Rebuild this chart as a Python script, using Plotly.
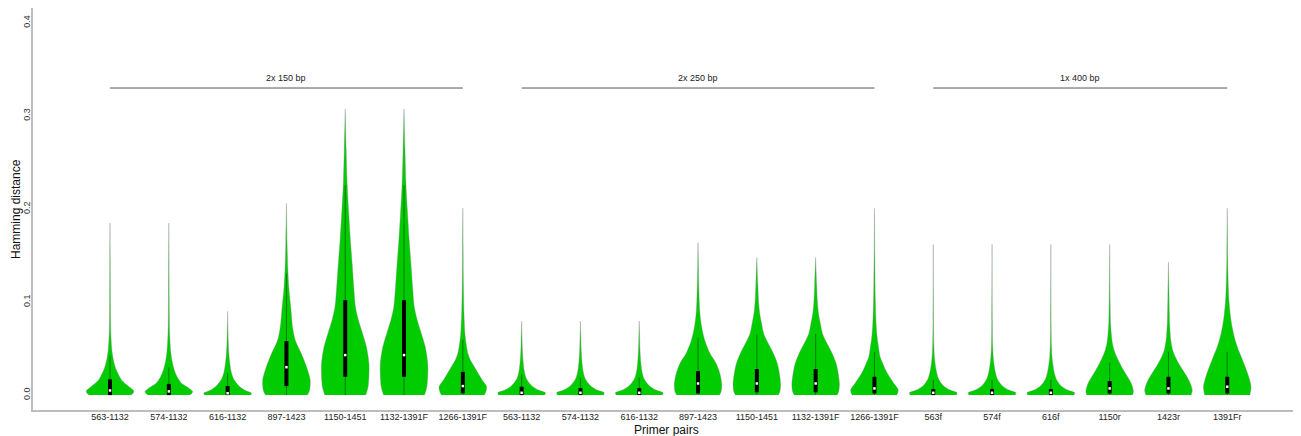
import plotly.graph_objects as go

# ---------------- data ----------------
categories = ["563-1132", "574-1132", "616-1132", "897-1423", "1150-1451", "1132-1391F", "1266-1391F",
              "563-1132", "574-1132", "616-1132", "897-1423", "1150-1451", "1132-1391F", "1266-1391F",
              "563f", "574f", "616f", "1150r", "1423r", "1391Fr"]

# box statistics (Hamming distance)
q1 = [0.0, 0.0, 0.0, 0.0097, 0.0197, 0.0197, 0.002,
      0.0, 0.0, 0.0, 0.0018, 0.003, 0.003, 0.0018,
      0.0, 0.0, 0.0, 0.0018, 0.0018, 0.0018]
median = [0.005, 0.004, 0.002, 0.030, 0.043, 0.043, 0.0097,
          0.0025, 0.0025, 0.0025, 0.0125, 0.0125, 0.0125, 0.0072,
          0.0025, 0.0025, 0.0025, 0.0072, 0.0072, 0.009]
q3 = [0.017, 0.012, 0.0097, 0.058, 0.102, 0.102, 0.025,
      0.009, 0.0075, 0.0075, 0.0258, 0.028, 0.028, 0.0197,
      0.0065, 0.0065, 0.0065, 0.015, 0.0197, 0.0197]

# density profiles (level, relative density)
lv_a = [0, 0.002, 0.0045, 0.009, 0.016, 0.024, 0.030, 0.038, 0.048, 0.066, 0.09, 0.13, 0.185]
dn_a = [0.88, 0.97, 1.0, 0.8, 0.49, 0.32, 0.22, 0.14, 0.08, 0.035, 0.02, 0.012, 0]
lv_b = [0, 0.002, 0.004, 0.008, 0.013, 0.02, 0.027, 0.036, 0.047, 0.066, 0.09, 0.13, 0.185]
dn_b = [0.88, 0.97, 1.0, 0.82, 0.52, 0.34, 0.23, 0.14, 0.08, 0.035, 0.02, 0.012, 0]
lv_c = [0, 0.002, 0.006, 0.0097, 0.017, 0.024, 0.031, 0.042, 0.055, 0.07, 0.09]
dn_c = [0.97, 1.0, 0.67, 0.48, 0.26, 0.16, 0.11, 0.06, 0.03, 0.015, 0]
lv_d = [0, 0.005, 0.016, 0.030, 0.045, 0.059, 0.073, 0.095, 0.116, 0.138, 0.166, 0.206]
dn_d = [0.88, 0.97, 1.0, 0.85, 0.62, 0.37, 0.26, 0.18, 0.10, 0.055, 0.025, 0]
lv_e = [0, 0.009, 0.033, 0.052, 0.066, 0.081, 0.095, 0.116, 0.138, 0.166, 0.199, 0.228, 0.264, 0.3075]
dn_e = [0.86, 0.96, 1.0, 0.89, 0.73, 0.55, 0.43, 0.36, 0.30, 0.22, 0.14, 0.08, 0.04, 0]
lv_f = [0, 0.004, 0.009, 0.016, 0.024, 0.031, 0.038, 0.045, 0.055, 0.066, 0.087, 0.12, 0.16, 0.201]
dn_f = [0.9, 0.97, 1.0, 0.82, 0.63, 0.47, 0.31, 0.21, 0.14, 0.09, 0.05, 0.025, 0.012, 0]
lv_g = [0, 0.0025, 0.0054, 0.009, 0.014, 0.019, 0.026, 0.037, 0.05, 0.065, 0.0796]
dn_g = [0.97, 1.0, 0.71, 0.47, 0.29, 0.18, 0.11, 0.06, 0.03, 0.015, 0]
lv_h = [0, 0.004, 0.011, 0.023, 0.034, 0.045, 0.056, 0.066, 0.077, 0.088, 0.102, 0.12, 0.14, 0.164]
dn_h = [0.9, 0.97, 1.0, 0.92, 0.76, 0.5, 0.32, 0.21, 0.13, 0.08, 0.05, 0.03, 0.015, 0]
lv_i = [0, 0.004, 0.012, 0.023, 0.034, 0.045, 0.056, 0.066, 0.077, 0.088, 0.102, 0.12, 0.148]
dn_i = [0.9, 0.97, 1.0, 0.95, 0.86, 0.69, 0.47, 0.29, 0.2, 0.12, 0.07, 0.04, 0]
lv_j = [0, 0.0054, 0.0125, 0.0197, 0.027, 0.034, 0.041, 0.052, 0.063, 0.077, 0.106, 0.149, 0.2007]
dn_j = [0.94, 1.0, 0.82, 0.63, 0.47, 0.35, 0.24, 0.17, 0.11, 0.07, 0.035, 0.015, 0]
lv_k = [0, 0.0025, 0.0054, 0.009, 0.014, 0.019, 0.026, 0.033, 0.041, 0.055, 0.08, 0.162]
dn_k = [0.97, 1.0, 0.71, 0.47, 0.3, 0.2, 0.13, 0.085, 0.05, 0.025, 0.012, 0]
lv_l = [0, 0.004, 0.0125, 0.0197, 0.027, 0.034, 0.041, 0.048, 0.055, 0.066, 0.077, 0.102, 0.162]
dn_l = [0.96, 1.0, 0.91, 0.75, 0.58, 0.43, 0.3, 0.19, 0.12, 0.07, 0.04, 0.02, 0]
lv_m = [0, 0.005, 0.0125, 0.0197, 0.027, 0.034, 0.041, 0.048, 0.059, 0.077, 0.113, 0.143]
dn_m = [0.95, 1.0, 0.92, 0.78, 0.6, 0.43, 0.29, 0.18, 0.1, 0.05, 0.02, 0]
lv_n = [0, 0.009, 0.0197, 0.030, 0.041, 0.052, 0.063, 0.074, 0.084, 0.099, 0.113, 0.138, 0.2007]
dn_n = [0.95, 1.0, 0.9, 0.76, 0.59, 0.42, 0.29, 0.2, 0.14, 0.08, 0.05, 0.025, 0]

profile_levels = [lv_a, lv_b, lv_c, lv_d, lv_e, lv_e, lv_f,
                  lv_g, lv_g, lv_g, lv_h, lv_i, lv_i, lv_j,
                  lv_k, lv_k, lv_k, lv_l, lv_m, lv_n]
profile_density = [dn_a, dn_b, dn_c, dn_d, dn_e, dn_e, dn_f,
                   dn_g, dn_g, dn_g, dn_h, dn_i, dn_i, dn_j,
                   dn_k, dn_k, dn_k, dn_l, dn_m, dn_n]

group_labels = ["2x 150 bp", "2x 250 bp", "1x 400 bp"]
group_first = [0, 7, 14]
group_last = [6, 13, 19]
group_level = 0.330

# ---------------- style ----------------
GREEN = "#00CC00"
HALF_W = 0.405
FONT = "Liberation Sans, Arial, sans-serif"

fig = go.Figure()

for i, (lv, dn) in enumerate(zip(profile_levels, profile_density)):
    xs = [i + HALF_W * d for d in dn] + [i - HALF_W * d for d in dn[::-1]]
    ys = list(lv) + list(lv[::-1])
    fig.add_trace(go.Scatter(x=xs, y=ys, mode="lines", fill="toself", fillcolor=GREEN,
                             line=dict(color="rgba(140,140,140,0.6)", width=0.6, shape="spline", smoothing=0.8),
                             hoverinfo="skip", showlegend=False))

# whiskers
wx, wy = [], []
for i in range(len(categories)):
    iqr = q3[i] - q1[i]
    top = min(profile_levels[i][-1], q3[i] + 1.5 * iqr)
    bot = max(profile_levels[i][0], q1[i] - 1.5 * iqr)
    wx += [i, i, None]
    wy += [bot, top, None]
fig.add_trace(go.Scatter(x=wx, y=wy, mode="lines", line=dict(color="rgba(0,0,0,0.4)", width=1),
                         hoverinfo="skip", showlegend=False))

# boxes
bx, by = [], []
for i in range(len(categories)):
    bx += [i, i, None]
    by += [q1[i], q3[i], None]
fig.add_trace(go.Scatter(x=bx, y=by, mode="lines", line=dict(color="black", width=4),
                         hoverinfo="skip", showlegend=False))

# medians
fig.add_trace(go.Scatter(x=list(range(len(categories))), y=median, mode="markers",
                         marker=dict(color="white", size=2.5, symbol="square", line=dict(width=0)),
                         hoverinfo="skip", showlegend=False))

# group brackets
for lab, a, b in zip(group_labels, group_first, group_last):
    fig.add_shape(type="line", x0=a, x1=b, y0=group_level, y1=group_level, xref="x", yref="y",
                  line=dict(color="#555555", width=1))
    fig.add_annotation(x=(a + b) / 2, y=group_level, yshift=10, text=lab, showarrow=False,
                       xref="x", yref="y", font=dict(size=9, color="#222222", family=FONT))

# axis titles
fig.add_annotation(x=0.5, y=0, xref="paper", yref="paper", yshift=-20, text="Primer pairs",
                   showarrow=False, yanchor="middle",
                   font=dict(size=12, color="#111111", family=FONT))
fig.add_annotation(x=0, y=0.5, xref="paper", yref="paper", xshift=-17, text="Hamming distance",
                   showarrow=False, textangle=-90, xanchor="center",
                   font=dict(size=12, color="#111111", family=FONT))

# the page body adds an 8px offset; margins compensate so the plot frame sits at x 33-1299, y 8-410
fig.update_layout(
    width=1293, height=428,
    margin=dict(l=25, r=2, t=0, b=26, autoexpand=False),
    paper_bgcolor="white", plot_bgcolor="white",
    font=dict(family=FONT, color="#222222"),
    showlegend=False,
)
fig.update_xaxes(range=[-1.31, 20.22], tickmode="array", tickvals=list(range(len(categories))),
                 ticktext=categories, tickfont=dict(size=9, color="#222222"), ticks="",
                 ticklabelstandoff=-3,
                 showgrid=False, zeroline=False, showline=True, mirror=True, automargin=False,
                 linecolor="#bdbdbd", linewidth=1.5)
fig.update_yaxes(range=[-0.016, 0.416], tickmode="array", tickvals=[0, 0.1, 0.2, 0.3, 0.4],
                 ticktext=["0.0", "0.1", "0.2", "0.3", "0.4"], tickangle=-90,
                 tickfont=dict(size=9, color="#333333"), ticks="",
                 ticklabelstandoff=-2,
                 showgrid=False, zeroline=False, showline=True, mirror=True, automargin=False,
                 linecolor="#bdbdbd", linewidth=1.5)

fig.write_html("out.html")
